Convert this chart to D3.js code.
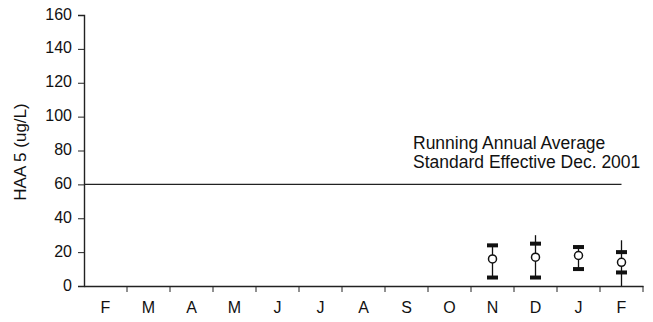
<!DOCTYPE html>
<html>
<head>
<meta charset="utf-8">
<script src="https://cdn.jsdelivr.net/npm/d3@7"></script>
<style>
  body { margin: 0; background: #fff; }
  text { font-family: "Liberation Sans", Arial, sans-serif; fill: #111; }
</style>
</head>
<body>
<div id="chart"></div>
<script>
// month categories along the x axis
let months = ['F', 'M', 'A', 'M', 'J', 'J', 'A', 'S', 'O', 'N', 'D', 'J', 'F'];
let yTicks = [0, 20, 40, 60, 80, 100, 120, 140, 160];

// sampled months (index into months) and their statistics
let sampleIdx = [9, 10, 11, 12];
let maxVals   = [24, 30, 24, 27];
let upperVals = [24, 25, 23, 20];
let meanVals  = [16, 17, 18, 14];
let lowerVals = [5, 5, 10, 8];
let minVals   = [5, 5, 10, 0];

let standard = 60;
let noteLines = ['Running Annual Average', 'Standard Effective Dec. 2001'];

let config = {
    width: 653, height: 322,
    plot: { x: 84, y: 15, width: 559, height: 271 }
};

let svg = d3.select('#chart')
    .append('svg')
        .attr('width', config.width)
        .attr('height', config.height);

let plot = svg.append('g')
    .attr('transform', translate(config.plot.x, config.plot.y));

let x = d3.scaleBand()
    .domain(d3.range(months.length))
    .range([0, config.plot.width]);

let y = d3.scaleLinear()
    .domain([0, 160])
    .range([config.plot.height, 0]);

// y axis
let yAxis = plot.append('g')
    .call(d3.axisLeft(y).tickValues(yTicks).tickSize(6).tickPadding(6));
yAxis.selectAll('text').style('font-size', '16px').attr('dy', '0.25em');

// x axis: ticks at band boundaries, labels centred in bands
let xAxis = plot.append('g')
    .attr('transform', translate(0, config.plot.height))
    .call(d3.axisBottom(x).tickFormat((i) => months[i]).tickSize(0).tickPadding(16));
xAxis.selectAll('text').style('font-size', '16px');

plot.append('g').selectAll('line')
    .data(d3.range(1, months.length + 1))
    .enter()
    .append('line')
        .attr('x1', (i) => i * x.step())
        .attr('x2', (i) => i * x.step())
        .attr('y1', config.plot.height)
        .attr('y2', config.plot.height + 6)
        .attr('stroke', '#222');

plot.selectAll('.domain').attr('stroke', '#222').attr('stroke-width', 1.4);
plot.selectAll('.tick line').attr('stroke', '#222');

// standard line
plot.append('line')
    .attr('x1', 0)
    .attr('x2', x(12) + x.bandwidth() / 2)
    .attr('y1', y(standard))
    .attr('y2', y(standard))
    .attr('stroke', '#222')
    .attr('stroke-width', 1.4);

plot.append('g').selectAll('text')
    .data(noteLines)
    .enter()
    .append('text')
        .attr('x', 329)
        .attr('y', (d, i) => 134 + i * 19)
        .style('font-size', '17.5px')
        .text((d) => d);

// y axis title
svg.append('text')
    .attr('transform', translate(26, 152) + ' rotate(-90)')
    .style('text-anchor', 'middle')
    .style('font-size', '17px')
    .text('HAA 5 (ug/L)');

// error bars
let bars = plot.append('g').selectAll('g')
    .data(sampleIdx.map((m, i) => ({ m: m, max: maxVals[i], up: upperVals[i], mean: meanVals[i], lo: lowerVals[i], min: minVals[i] })))
    .enter()
    .append('g')
        .attr('transform', (d) => translate(x(d.m) + x.bandwidth() / 2, 0));

bars.append('line')
    .attr('y1', (d) => y(d.max))
    .attr('y2', (d) => y(d.min))
    .attr('stroke', '#111')
    .attr('stroke-width', 1.3);

bars.selectAll('.cap')
    .data((d) => [d.up, d.lo])
    .enter()
    .append('rect')
        .attr('class', 'cap')
        .attr('x', -5.5)
        .attr('width', 11)
        .attr('y', (v) => y(v) - 2)
        .attr('height', 4)
        .attr('fill', '#111');

bars.append('circle')
    .attr('cy', (d) => y(d.mean))
    .attr('r', 4)
    .attr('fill', '#fff')
    .attr('stroke', '#111')
    .attr('stroke-width', 1.5);

// helper method to make translating easier
function translate(x, y) {
    return 'translate(' + x + ',' + y + ')';
}
</script>
</body>
</html>
